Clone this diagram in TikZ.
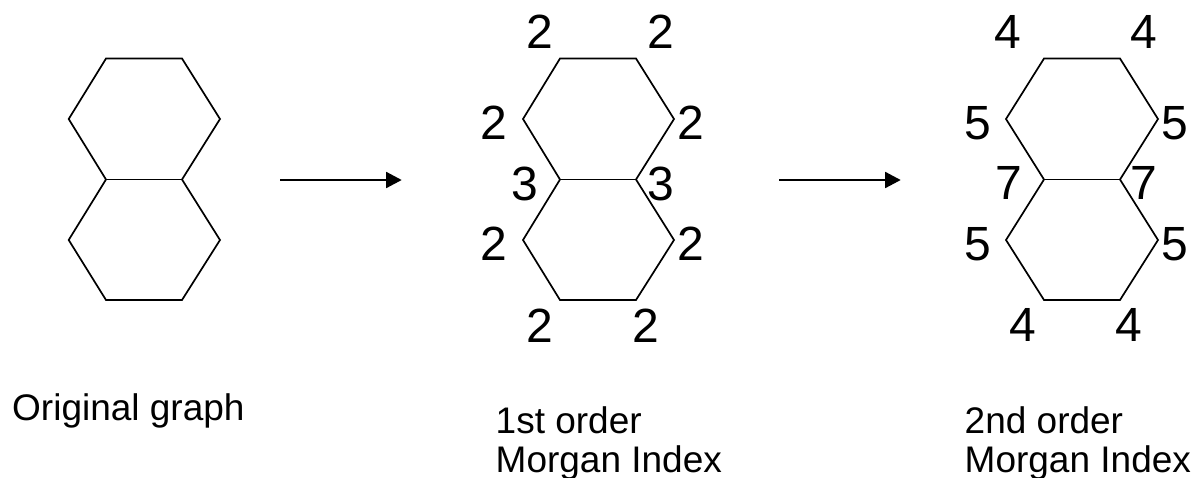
\documentclass[tikz,border=0pt]{standalone}
\usepackage{fontspec}
\setmainfont{Liberation Sans}
\usetikzlibrary{arrows.meta}
\tikzset{
  num/.style={inner sep=0pt,font=\fontsize{48}{48}\selectfont},
  caption/.style={inner sep=0pt,anchor=base west,align=left,font=\fontsize{37}{39}\selectfont},
  bond/.style={line width=1.7pt,line join=miter},
  step arrow/.style={line width=1.7pt,-{Triangle[length=15.5pt,width=16pt]}}
}
\begin{document}
\begin{tikzpicture}[x=1pt,y=-1pt]
    \useasboundingbox (0,0) rectangle (1196,477);
    % original graph
    \coordinate (a1) at (106,58.5);
    \coordinate (a2) at (182,58.5);
    \coordinate (a3) at (220,119);
    \coordinate (a4) at (182,179.5);
    \coordinate (a5) at (220,240);
    \coordinate (a6) at (182,300);
    \coordinate (a7) at (106,300);
    \coordinate (a8) at (68.7,240);
    \coordinate (a9) at (106,179.5);
    \coordinate (a10) at (68.7,119);
    \draw[bond] (a1) -- (a2) -- (a3) -- (a4) -- (a5) -- (a6) -- (a7) -- (a8) -- (a9) -- (a10) -- cycle;
    \draw[bond] (a9) -- (a4);
    % first order
    \coordinate (b1) at (560,58.5);
    \coordinate (b2) at (636,58.5);
    \coordinate (b3) at (674,119);
    \coordinate (b4) at (636,179.5);
    \coordinate (b5) at (674,240);
    \coordinate (b6) at (636,300);
    \coordinate (b7) at (560,300);
    \coordinate (b8) at (523,240);
    \coordinate (b9) at (560,179.5);
    \coordinate (b10) at (523,119);
    \draw[bond] (b1) -- (b2) -- (b3) -- (b4) -- (b5) -- (b6) -- (b7) -- (b8) -- (b9) -- (b10) -- cycle;
    \draw[bond] (b9) -- (b4);
    % second order
    \coordinate (c1) at (1044,58.5);
    \coordinate (c2) at (1120,58.5);
    \coordinate (c3) at (1158,119);
    \coordinate (c4) at (1120,179.5);
    \coordinate (c5) at (1158,240);
    \coordinate (c6) at (1120,300);
    \coordinate (c7) at (1044,300);
    \coordinate (c8) at (1006,240);
    \coordinate (c9) at (1044,179.5);
    \coordinate (c10) at (1006,119);
    \draw[bond] (c1) -- (c2) -- (c3) -- (c4) -- (c5) -- (c6) -- (c7) -- (c8) -- (c9) -- (c10) -- cycle;
    \draw[bond] (c9) -- (c4);
    % arrows
    \coordinate (s1) at (280,180);
    \coordinate (e1) at (401.7,180);
    \coordinate (s2) at (779,180);
    \coordinate (e2) at (900.7,180);
    \draw[step arrow] (s1) -- (e1);
    \draw[step arrow] (s2) -- (e2);
    % labels
    \node[num] (n1) at (540,32) {2};
    \node[num] (n2) at (661,32) {2};
    \node[num] (n3) at (494,123) {2};
    \node[num] (n4) at (691,123) {2};
    \node[num] (n5) at (525,184) {3};
    \node[num] (n6) at (661,184) {3};
    \node[num] (n7) at (494,244) {2};
    \node[num] (n8) at (691,244) {2};
    \node[num] (n9) at (540,326) {2};
    \node[num] (n10) at (646,326) {2};
    \node[num] (m1) at (1008,32) {4};
    \node[num] (m2) at (1144,32) {4};
    \node[num] (m3) at (978,123) {5};
    \node[num] (m4) at (1175,123) {5};
    \node[num] (m5) at (1009,183) {7};
    \node[num] (m6) at (1144,183) {7};
    \node[num] (m7) at (978,244) {5};
    \node[num] (m8) at (1175,244) {5};
    \node[num] (m9) at (1023,325) {4};
    \node[num] (m10) at (1129,325) {4};
    \node[caption] (t1) at (12,420.7) {Original graph};
    \node[caption] (t2) at (495.5,472) {1st order\\Morgan Index};
    \node[caption] (t3) at (964.5,472) {2nd order\\Morgan Index};
  \end{tikzpicture}
\end{document}
